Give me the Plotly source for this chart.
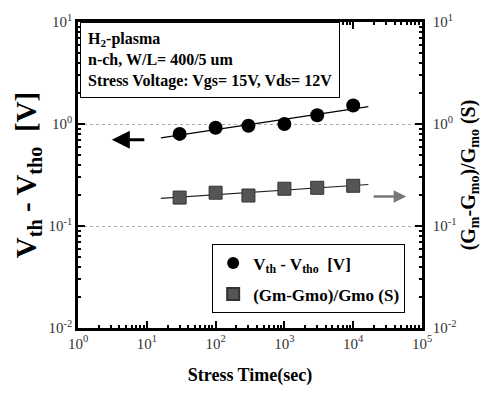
import numpy as np
import plotly.graph_objects as go

# ---- data ----
stress_time = [30, 100, 300, 1000, 3000, 10000]
dvth = [0.80, 0.92, 0.96, 1.00, 1.22, 1.52]
dgm = [0.19, 0.212, 0.199, 0.232, 0.237, 0.248]
fit_range = [16, 16600]

x_tickvals = [1, 10, 100, 1000, 10000, 100000]
x_ticktext = ["10<sup>0</sup>", "10<sup>1</sup>", "10<sup>2</sup>", "10<sup>3</sup>", "10<sup>4</sup>", "10<sup>5</sup>"]
y_tickvals = [0.01, 0.1, 1, 10]
y_ticktext = ["10<sup>-2</sup>", "10<sup>-1</sup>", "10<sup>0</sup>", "10<sup>1</sup>"]

SERIF = "Liberation Serif, Times New Roman, serif"

def powfit(x, y, xr):
    p = np.polyfit(np.log10(x), np.log10(y), 1)
    xx = np.array(xr, dtype=float)
    return xx, 10 ** np.polyval(p, np.log10(xx))

fx1, fy1 = powfit(stress_time, dvth, fit_range)
fx2, fy2 = powfit(stress_time, dgm, fit_range)

def minor_vals(lo, hi):
    out = []
    for e in range(lo, hi):
        for m in range(2, 10):
            out.append(m * 10 ** e)
    return out

fig = go.Figure()
fig.add_trace(go.Scatter(x=fx1, y=fy1, mode="lines", line=dict(color="black", width=1.2),
                         showlegend=False, hoverinfo="skip"))
fig.add_trace(go.Scatter(x=fx2, y=fy2, mode="lines", line=dict(color="#222", width=1.2),
                         showlegend=False, hoverinfo="skip", yaxis="y2"))
fig.add_trace(go.Scatter(x=stress_time, y=dvth, mode="markers", legendgroup="a",
                         marker=dict(symbol="circle", size=14, color="black"),
                         name="<b>V<sub>th</sub> - V<sub>tho</sub>  [V]</b>"))
fig.add_trace(go.Scatter(x=stress_time, y=dgm, mode="markers", yaxis="y2", legendgroup="b",
                         marker=dict(symbol="square", size=13, color="#555555",
                                     line=dict(color="#333", width=1)),
                         name="<b>(Gm-Gmo)/Gmo (S)</b>"))

axis_common = dict(type="log", showline=True, linecolor="black", linewidth=2.5,
                   ticks="inside", ticklen=7, tickwidth=1.5, tickcolor="black",
                   tickfont=dict(family=SERIF, size=15, color="#333"),
                   zeroline=False)

fig.update_layout(
    width=485, height=396,
    margin=dict(l=78, r=61, t=16, b=68),
    paper_bgcolor="white", plot_bgcolor="white",
    xaxis=dict(**axis_common, range=[0, 5], tickmode="array", tickvals=x_tickvals,
               ticktext=x_ticktext, mirror="ticks", showgrid=False,
               minor=dict(ticks="inside", ticklen=3, tickcolor="black", tickvals=minor_vals(0, 5)),
               title=dict(text="<b>Stress Time(sec)</b>", font=dict(family=SERIF, size=18, color="black"),
                          standoff=18)),
    yaxis=dict(**axis_common, range=[-2, 1], tickmode="array", tickvals=y_tickvals,
               ticktext=y_ticktext, showgrid=True, gridcolor="#aaa", griddash="dot", gridwidth=1,
               minor=dict(ticks="inside", ticklen=3, tickcolor="black", tickvals=minor_vals(-2, 1)),
               title=dict(text="<b>V<sub>th</sub> - V<sub>tho</sub>  [V]</b>",
                          font=dict(family=SERIF, size=29, color="black"), standoff=4)),
    yaxis2=dict(**axis_common, range=[-2, 1], tickmode="array", tickvals=y_tickvals,
                ticktext=y_ticktext, overlaying="y", side="right", showgrid=False,
                ticklabelstandoff=5,
                minor=dict(ticks="inside", ticklen=3, tickcolor="black", tickvals=minor_vals(-2, 1)),
                title=dict(text="<b>(G<sub>m</sub>-G<sub>mo</sub>)/G<sub>mo</sub> (S)</b>",
                           font=dict(family=SERIF, size=20, color="black"), standoff=2)),
    legend=dict(x=0.39, y=0.273, xanchor="left", yanchor="top",
                bordercolor="black", borderwidth=1, bgcolor="white",
                font=dict(family=SERIF, size=17, color="black"),
                itemsizing="constant", tracegroupgap=6),
    showlegend=True,
)

# info box
fig.add_annotation(xref="paper", yref="paper", x=0.006, y=1.0, xanchor="left", yanchor="top",
                   text="<b>H<sub>2</sub>-plasma<br>n-ch, W/L= 400/5 um<br>Stress Voltage: Vgs= 15V, Vds= 12V</b>",
                   align="left", showarrow=False, bordercolor="black", borderwidth=1, borderpad=7,
                   bgcolor="white", font=dict(family=SERIF, size=16, color="black"))

# arrows (log axis annotation coords in log10 units)
fig.add_annotation(x=np.log10(3.1), y=np.log10(0.70), xref="x", yref="y", ax=34, ay=0,
                   text="", showarrow=True, arrowhead=2, arrowsize=1.2, arrowwidth=3, arrowcolor="black")
fig.add_annotation(x=np.log10(10 ** 4.77), y=np.log10(0.195), xref="x", yref="y", ax=-34, ay=0,
                   text="", showarrow=True, arrowhead=2, arrowsize=1.0, arrowwidth=2.5, arrowcolor="#777")

fig.write_html("out.html")
